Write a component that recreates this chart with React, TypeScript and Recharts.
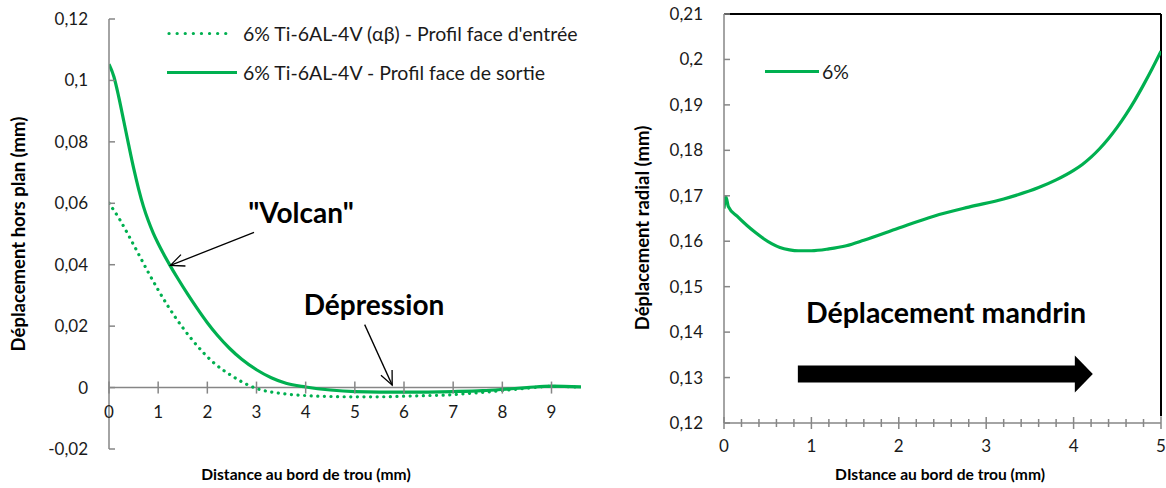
import { Line, LineChart, ReferenceLine, XAxis, YAxis } from "recharts"

const GREEN = "#00b050"
const AXIS_GRAY = "#868686"
const FONT = "Lato, 'Liberation Sans', sans-serif"

// graphique de gauche : déplacement hors plan
const entreeX = [0, 0.2, 0.4, 0.6, 0.8, 1.0, 1.2, 1.5, 1.8, 2.1, 2.5, 3.0, 3.5, 4.0, 4.5, 5.0, 5.5, 6.0, 6.5, 7.0, 7.5, 8.0, 8.5, 9.0, 9.6]
const entreeY = [0.06, 0.0552, 0.0495, 0.0435, 0.0375, 0.0318, 0.0265, 0.0195, 0.0135, 0.0085, 0.0038, -0.0003, -0.0019, -0.0026, -0.0029, -0.003, -0.003, -0.0028, -0.0026, -0.0023, -0.0017, -0.001, -0.0002, 0.0004, 0.0001]
const sortieX = [0, 0.1, 0.2, 0.3, 0.4, 0.5, 0.6, 0.7, 0.8, 0.9, 1.0, 1.1, 1.24, 1.4, 1.6, 1.8, 2.0, 2.2, 2.45, 2.7, 3.0, 3.3, 3.6, 4.0, 4.5, 5.0, 6.0, 7.0, 7.6, 8.0, 8.5, 9.0, 9.6]
const sortieY = [0.1053, 0.1012, 0.0945, 0.0868, 0.079, 0.0715, 0.0648, 0.059, 0.0543, 0.0503, 0.0469, 0.0438, 0.0398, 0.0355, 0.0304, 0.0256, 0.0211, 0.0171, 0.0128, 0.0092, 0.0058, 0.0032, 0.0014, 0.0002, -0.0008, -0.0013, -0.0015, -0.0013, -0.001, -0.0006, 0, 0.0005, 0.0002]
const leftXTicks = [0, 1, 2, 3, 4, 5, 6, 7, 8, 9]
const leftYTicks = [-0.02, 0, 0.02, 0.04, 0.06, 0.08, 0.1, 0.12]

// graphique de droite : déplacement radial
const radialX = [0, 0.02, 0.05, 0.15, 0.26, 0.36, 0.45, 0.55, 0.64, 0.75, 0.85, 1.0, 1.2, 1.4, 1.6, 2.0, 2.4, 2.8, 3.2, 3.6, 3.8, 4.0, 4.1, 4.2, 4.3, 4.4, 4.5, 4.6, 4.7, 4.8, 4.9, 5.0]
const radialY = [0.1672, 0.1698, 0.1676, 0.1655, 0.1635, 0.1619, 0.1606, 0.1594, 0.1586, 0.1581, 0.1579, 0.1579, 0.1583, 0.159, 0.1602, 0.1629, 0.1655, 0.1675, 0.1693, 0.1718, 0.1735, 0.1756, 0.1769, 0.1785, 0.1804, 0.1826, 0.1851, 0.1879, 0.191, 0.1944, 0.198, 0.2018]
const rightXTicks = [0, 0.2, 0.4, 0.6, 0.8, 1, 1.2, 1.4, 1.6, 1.8, 2, 2.2, 2.4, 2.6, 2.8, 3, 3.2, 3.4, 3.6, 3.8, 4, 4.2, 4.4, 4.6, 4.8, 5]
const rightYTicks = [0.12, 0.13, 0.14, 0.15, 0.16, 0.17, 0.18, 0.19, 0.2, 0.21]

const toPoints = (xs: number[], ys: number[]) => xs.map((x, i) => ({ x, y: ys[i] }))
const entree = toPoints(entreeX, entreeY)
const sortie = toPoints(sortieX, sortieY)
const radial = toPoints(radialX, radialY)

const fmt = (v: number) => String(+v.toFixed(2)).replace(".", ",")

const L_H = 488
const L_MARGIN = { top: 19, right: 19, bottom: 0, left: 0 }
const L_XAXIS_H = 39
const L_PLOT_H = L_H - L_MARGIN.top - L_MARGIN.bottom - L_XAXIS_H
const L_Y_DOMAIN: [number, number] = [-0.02, 0.12]
const ZERO_SHIFT = (L_PLOT_H * (0 - L_Y_DOMAIN[0])) / (L_Y_DOMAIN[1] - L_Y_DOMAIN[0])

function YTickInside(props: any) {
    const { x, y, payload } = props
    return (
        <g>
            <line x1={x} y1={y} x2={x + 6} y2={y} stroke={AXIS_GRAY} strokeWidth={1.5} />
            <text x={x - 21} y={y} dy={6} textAnchor="end" fontSize={17} fill="#1a1a1a" fontFamily={FONT}>
                {fmt(payload.value)}
            </text>
        </g>
    )
}

// l'axe des x du graphique de gauche croise à y = 0
function LeftXTick(props: any) {
    const { x, y, payload } = props
    const y0 = y - ZERO_SHIFT
    return (
        <g>
            <line x1={x} x2={x} y1={y0 - 6} y2={y0 + 6} stroke={AXIS_GRAY} strokeWidth={1.5} />
            <text x={x} y={y0 + 24} dy={6} textAnchor="middle" fontSize={17} fill="#1a1a1a" fontFamily={FONT}>
                {payload.value}
            </text>
        </g>
    )
}

function RightXTick(props: any) {
    const { x, y, payload } = props
    const major = Number.isInteger(payload.value)
    const h = major ? 6 : 4
    return (
        <g>
            <line x1={x} x2={x} y1={y - h} y2={y + h} stroke={AXIS_GRAY} strokeWidth={1.5} />
            {major && (
                <text x={x} y={y + 23} dy={6} textAnchor="middle" fontSize={17} fill="#1a1a1a" fontFamily={FONT}>
                    {payload.value}
                </text>
            )}
        </g>
    )
}

function OpenArrow(props: any) {
    const { x1, y1, x2, y2 } = props
    const a = Math.atan2(y2 - y1, x2 - x1)
    const len = 15
    const spread = 0.42
    const p1 = [x2 - len * Math.cos(a - spread), y2 - len * Math.sin(a - spread)]
    const p2 = [x2 - len * Math.cos(a + spread), y2 - len * Math.sin(a + spread)]
    return (
        <g>
            <line x1={x1} y1={y1} x2={x2} y2={y2} stroke="#000" strokeWidth={1.3} />
            <polyline points={`${p1[0]},${p1[1]} ${x2},${y2} ${p2[0]},${p2[1]}`} fill="none" stroke="#000" strokeWidth={1.3} />
        </g>
    )
}

function BlockArrow(props: any) {
    const { x1, y1, x2 } = props
    const body = 8.5
    const head = 18.5
    const headLen = 18
    const xb = x2 - headLen
    const pts = [
        [x1, y1 - body], [xb, y1 - body], [xb, y1 - head], [x2, y1],
        [xb, y1 + head], [xb, y1 + body], [x1, y1 + body],
    ]
    return <polygon points={pts.map(p => p.join(",")).join(" ")} fill="#000" />
}

const titleStyle = (left: number, top: number, size: number, rotate: boolean): React.CSSProperties => ({
    position: "absolute",
    left,
    top,
    transform: `translate(-50%, -50%)${rotate ? " rotate(-90deg)" : ""}`,
    whiteSpace: "nowrap",
    fontWeight: 700,
    fontSize: size,
    color: "#000",
})

const noteStyle = (left: number, top: number, size: number): React.CSSProperties => ({
    position: "absolute",
    left,
    top,
    transform: "translate(-50%, -50%)",
    whiteSpace: "nowrap",
    fontWeight: 700,
    fontSize: size,
    color: "#000",
})

const legendRow = (left: number, top: number): React.CSSProperties => ({
    position: "absolute",
    left,
    top,
    display: "flex",
    alignItems: "center",
    fontSize: 19.5,
    color: "#1a1a1a",
    whiteSpace: "nowrap",
    transform: "translateY(-50%)",
})

export default function App() {
    return (
        <div style={{ position: "absolute", left: 0, top: 0, width: 1166, height: 488, background: "#fff", fontFamily: FONT, overflow: "hidden" }}>
            <div style={{ position: "absolute", left: 0, top: 0 }}>
                <LineChart width={600} height={L_H} margin={L_MARGIN}>
                    <XAxis
                        type="number"
                        dataKey="x"
                        domain={[0, 9.6]}
                        ticks={leftXTicks}
                        interval={0}
                        allowDataOverflow
                        height={L_XAXIS_H}
                        axisLine={false}
                        tickLine={false}
                        tickSize={0}
                        tickMargin={0}
                        tick={<LeftXTick />}
                    />
                    <YAxis
                        type="number"
                        domain={L_Y_DOMAIN}
                        ticks={leftYTicks}
                        interval={0}
                        allowDataOverflow
                        width={109}
                        axisLine={{ stroke: AXIS_GRAY, strokeWidth: 1.5 }}
                        tickLine={false}
                        tickSize={0}
                        tickMargin={0}
                        tick={<YTickInside />}
                    />
                    <ReferenceLine y={0} stroke={AXIS_GRAY} strokeWidth={1.5} />
                    <Line data={entree} dataKey="y" type="monotone" stroke={GREEN} strokeWidth={3.2} strokeDasharray="0.1 6.5" strokeLinecap="round" dot={false} isAnimationActive={false} />
                    <Line data={sortie} dataKey="y" type="monotone" stroke={GREEN} strokeWidth={3.2} dot={false} isAnimationActive={false} />
                    <ReferenceLine segment={[{ x: 2.95, y: 0.0505 }, { x: 1.25, y: 0.0398 }]} ifOverflow="visible" shape={<OpenArrow />} />
                    <ReferenceLine segment={[{ x: 5.2, y: 0.0205 }, { x: 5.76, y: 0.0008 }]} ifOverflow="visible" shape={<OpenArrow />} />
                </LineChart>
            </div>

            <div style={{ position: "absolute", left: 620, top: 0 }}>
                <LineChart width={546} height={488} margin={{ top: 14, right: 5, bottom: 0, left: 0 }}>
                    <XAxis
                        type="number"
                        dataKey="x"
                        domain={[0, 5]}
                        ticks={rightXTicks}
                        interval={0}
                        allowDataOverflow
                        height={65}
                        axisLine={{ stroke: AXIS_GRAY, strokeWidth: 1.5 }}
                        tickLine={false}
                        tickSize={0}
                        tickMargin={0}
                        tick={<RightXTick />}
                    />
                    <YAxis
                        type="number"
                        domain={[0.12, 0.21]}
                        ticks={rightYTicks}
                        interval={0}
                        allowDataOverflow
                        width={104}
                        axisLine={{ stroke: AXIS_GRAY, strokeWidth: 1.5 }}
                        tickLine={false}
                        tickSize={0}
                        tickMargin={0}
                        tick={<YTickInside />}
                    />
                    <ReferenceLine y={0.21} stroke="#000" strokeWidth={2} />
                    <ReferenceLine segment={[{ x: 5, y: 0.1215 }, { x: 5, y: 0.21 }]} stroke="#000" strokeWidth={2} />
                    <Line data={radial} dataKey="y" type="monotone" stroke={GREEN} strokeWidth={3.2} dot={false} isAnimationActive={false} />
                    <ReferenceLine segment={[{ x: 0.845, y: 0.1308 }, { x: 4.22, y: 0.1308 }]} ifOverflow="visible" shape={<BlockArrow />} />
                </LineChart>
            </div>

            {/* légendes */}
            <div style={legendRow(167, 33)}>
                <svg width={70} height={8} style={{ marginRight: 6 }}>
                    <line x1={2} y1={4} x2={66} y2={4} stroke={GREEN} strokeWidth={3.2} strokeDasharray="0.1 8" strokeLinecap="round" />
                </svg>
                6% Ti-6AL-4V (αβ) - Profil face d'entrée
            </div>
            <div style={legendRow(167, 72)}>
                <svg width={70} height={8} style={{ marginRight: 6 }}>
                    <line x1={0} y1={4} x2={70} y2={4} stroke={GREEN} strokeWidth={3.2} />
                </svg>
                6% Ti-6AL-4V - Profil face de sortie
            </div>
            <div style={legendRow(765, 71)}>
                <svg width={54} height={8} style={{ marginRight: 3 }}>
                    <line x1={0} y1={4} x2={54} y2={4} stroke={GREEN} strokeWidth={3.2} />
                </svg>
                6%
            </div>

            {/* titres d'axes */}
            <div style={titleStyle(18, 234, 18.5, true)}>Déplacement hors plan (mm)</div>
            <div style={titleStyle(306, 474, 15.6, false)}>Distance au bord de trou (mm)</div>
            <div style={titleStyle(642, 228, 18.5, true)}>Déplacement radial (mm)</div>
            <div style={titleStyle(940, 474, 15.6, false)}>DIstance au bord de trou (mm)</div>

            {/* annotations */}
            <div style={noteStyle(301, 212, 28)}>"Volcan"</div>
            <div style={noteStyle(374, 304, 28)}>Dépression</div>
            <div style={noteStyle(946, 312, 28.5)}>Déplacement mandrin</div>
        </div>
    )
}
